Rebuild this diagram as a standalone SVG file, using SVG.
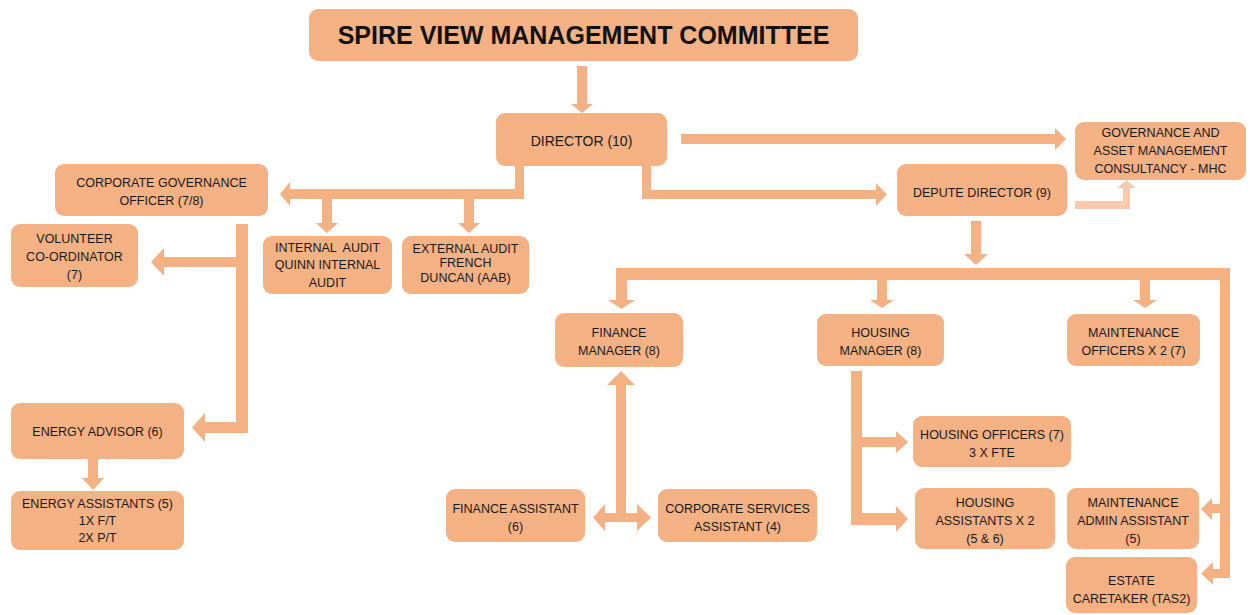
<svg xmlns="http://www.w3.org/2000/svg" width="1251" height="615" viewBox="0 0 1251 615">
  <style>
    .box { fill: #F4B183; }
    .arrow { fill: #F4B183; }
    .arrow-light { fill: #F8CBAD; }
    .t { font-family: "Liberation Sans", Arial, sans-serif; font-size: 12.5px; fill: #1a1a1a; text-anchor: middle; white-space: pre; }
    .title { font-family: "Liberation Sans", Arial, sans-serif; font-size: 25px; font-weight: bold; fill: #111; text-anchor: middle; }
    .big { font-size: 14px; }
  </style>
  <rect width="1251" height="615" fill="#ffffff"/>

  <!-- block-arrow connectors -->
  <g id="connectors">
    <!-- committee to director -->
    <path class="arrow" d="M577,66 H587 V104 H593 L582,113 L571,104 H577 Z"/>
    <!-- director to governance consultancy -->
    <path class="arrow" d="M681,134 H1055 V128 L1066,139 L1055,150 V144 H681 Z"/>
    <!-- director to depute director -->
    <path class="arrow" d="M642,165 H651 V190 H876 V183 L887,194.5 L876,206 V199 H642 Z"/>
    <!-- director to corporate governance officer and audits -->
    <path class="arrow" d="M524,165 V199 H474 V223 H480 L469,233 L458,223 H464 V199 H332 V223 H338 L327,233 L316,223 H322 V199 H290 V206 L280,194 L290,182 V189 H515 V165 Z"/>
    <!-- corporate governance officer to volunteer co-ordinator and energy advisor -->
    <path class="arrow" d="M236,224 H248 V433 H205 V442 L192,427.5 L205,413 V422 H236 V267 H164 V276 L151,262 L164,248 V257 H236 Z"/>
    <!-- energy advisor to energy assistants -->
    <path class="arrow" d="M88,459 H98 V478 H104 L93,490 L82,478 H88 Z"/>
    <!-- depute director to governance consultancy -->
    <path class="arrow-light" d="M1075,201 H1123 V188 H1117 L1126.5,180 L1136,188 H1130 V209 H1075 Z"/>
    <!-- depute director down to distribution bar -->
    <path class="arrow" d="M971,221 H981 V254 H988 L976,265 L964,254 H971 Z"/>
    <!-- distribution bar to managers, maintenance and estate staff -->
    <path class="arrow" d="M616,268 H1230 V578 H1213 V585 L1201,573.5 L1213,562 V569 H1220 V513 H1212 V520 L1201,509 L1212,498 V504 H1220 V280 H1150 V300 H1157 L1145,308 L1133,300 H1140 V280 H887 V300 H894 L882,308 L870,300 H877 V280 H627 V300 H635 L621.5,309 L608,300 H616 Z"/>
    <!-- finance manager to finance and corporate services assistants -->
    <path class="arrow" d="M616,385 H607 L621,371 L635,385 H626 V513 H637 V504 L651,517.5 L637,531 V522 H605 V531 L593,517.5 L605,504 V513 H616 Z"/>
    <!-- housing manager to housing officers and assistants -->
    <path class="arrow" d="M851,371 H862 V437 H896 V431 L908,442 L896,453 V447 H862 V513 H896 V506 L908,519 L896,532 V525 H851 Z"/>
  </g>

  <g id="committee">
    <rect class="box" x="309" y="9" width="549" height="52" rx="9"/>
    <text class="title" x="583.5" y="44">SPIRE VIEW MANAGEMENT COMMITTEE</text>
  </g>

  <g id="director">
    <rect class="box" x="496" y="113" width="171" height="53" rx="9"/>
    <text class="t big" x="581.5" y="146">DIRECTOR (10)</text>
  </g>

  <g id="governance-consultancy">
    <rect class="box" x="1075" y="122" width="171" height="58" rx="9"/>
    <text class="t" x="1160.5" y="137">GOVERNANCE AND</text>
    <text class="t" x="1160.5" y="155">ASSET MANAGEMENT</text>
    <text class="t" x="1160.5" y="173">CONSULTANCY - MHC</text>
  </g>

  <g id="depute-director">
    <rect class="box" x="897" y="164" width="170" height="52" rx="9"/>
    <text class="t" x="982" y="197">DEPUTE DIRECTOR (9)</text>
  </g>

  <g id="corporate-governance-officer">
    <rect class="box" x="55" y="164" width="213" height="52" rx="9"/>
    <text class="t" x="161.5" y="187">CORPORATE GOVERNANCE</text>
    <text class="t" x="161.5" y="205">OFFICER (7/8)</text>
  </g>

  <g id="volunteer-coordinator">
    <rect class="box" x="11" y="224" width="127" height="63" rx="9"/>
    <text class="t" x="74.5" y="243">VOLUNTEER</text>
    <text class="t" x="74.5" y="261">CO-ORDINATOR</text>
    <text class="t" x="74.5" y="279">(7)</text>
  </g>

  <g id="internal-audit">
    <rect class="box" x="263" y="236" width="129" height="58" rx="9"/>
    <text class="t" x="327.5" y="252">INTERNAL  AUDIT</text>
    <text class="t" x="327.5" y="269">QUINN INTERNAL</text>
    <text class="t" x="327.5" y="287">AUDIT</text>
  </g>

  <g id="external-audit">
    <rect class="box" x="402" y="236" width="127" height="58" rx="9"/>
    <text class="t" x="465.5" y="253">EXTERNAL AUDIT</text>
    <text class="t" x="465.5" y="267">FRENCH</text>
    <text class="t" x="465.5" y="282">DUNCAN (AAB)</text>
  </g>

  <g id="energy-advisor">
    <rect class="box" x="11" y="403" width="173" height="56" rx="9"/>
    <text class="t" x="97.5" y="436">ENERGY ADVISOR (6)</text>
  </g>

  <g id="energy-assistants">
    <rect class="box" x="11" y="491" width="173" height="59" rx="9"/>
    <text class="t" x="97.5" y="508">ENERGY ASSISTANTS (5)</text>
    <text class="t" x="97.5" y="525">1X F/T</text>
    <text class="t" x="97.5" y="542">2X P/T</text>
  </g>

  <g id="finance-manager">
    <rect class="box" x="555" y="313" width="128" height="54" rx="9"/>
    <text class="t" x="619" y="337">FINANCE</text>
    <text class="t" x="619" y="355">MANAGER (8)</text>
  </g>

  <g id="housing-manager">
    <rect class="box" x="817" y="314" width="127" height="52" rx="9"/>
    <text class="t" x="880.5" y="337">HOUSING</text>
    <text class="t" x="880.5" y="355">MANAGER (8)</text>
  </g>

  <g id="maintenance-officers">
    <rect class="box" x="1067" y="314" width="133" height="52" rx="9"/>
    <text class="t" x="1133.5" y="337">MAINTENANCE</text>
    <text class="t" x="1133.5" y="355">OFFICERS X 2 (7)</text>
  </g>

  <g id="housing-officers">
    <rect class="box" x="913" y="416" width="158" height="51" rx="9"/>
    <text class="t" x="992" y="439">HOUSING OFFICERS (7)</text>
    <text class="t" x="992" y="457">3 X FTE</text>
  </g>

  <g id="finance-assistant">
    <rect class="box" x="446" y="489" width="139" height="53" rx="9"/>
    <text class="t" x="515.5" y="513">FINANCE ASSISTANT</text>
    <text class="t" x="515.5" y="531">(6)</text>
  </g>

  <g id="corporate-services-assistant">
    <rect class="box" x="658" y="489" width="159" height="53" rx="9"/>
    <text class="t" x="737.5" y="513">CORPORATE SERVICES</text>
    <text class="t" x="737.5" y="531">ASSISTANT (4)</text>
  </g>

  <g id="housing-assistants">
    <rect class="box" x="915" y="488" width="140" height="61" rx="9"/>
    <text class="t" x="985" y="507">HOUSING</text>
    <text class="t" x="985" y="525">ASSISTANTS X 2</text>
    <text class="t" x="985" y="543">(5 &amp; 6)</text>
  </g>

  <g id="maintenance-admin-assistant">
    <rect class="box" x="1067" y="488" width="132" height="61" rx="9"/>
    <text class="t" x="1133" y="507">MAINTENANCE</text>
    <text class="t" x="1133" y="525">ADMIN ASSISTANT</text>
    <text class="t" x="1133" y="543">(5)</text>
  </g>

  <g id="estate-caretaker">
    <rect class="box" x="1066" y="557" width="131" height="56" rx="9"/>
    <text class="t" x="1131.5" y="585">ESTATE</text>
    <text class="t" x="1131.5" y="603">CARETAKER (TAS2)</text>
  </g>
</svg>
